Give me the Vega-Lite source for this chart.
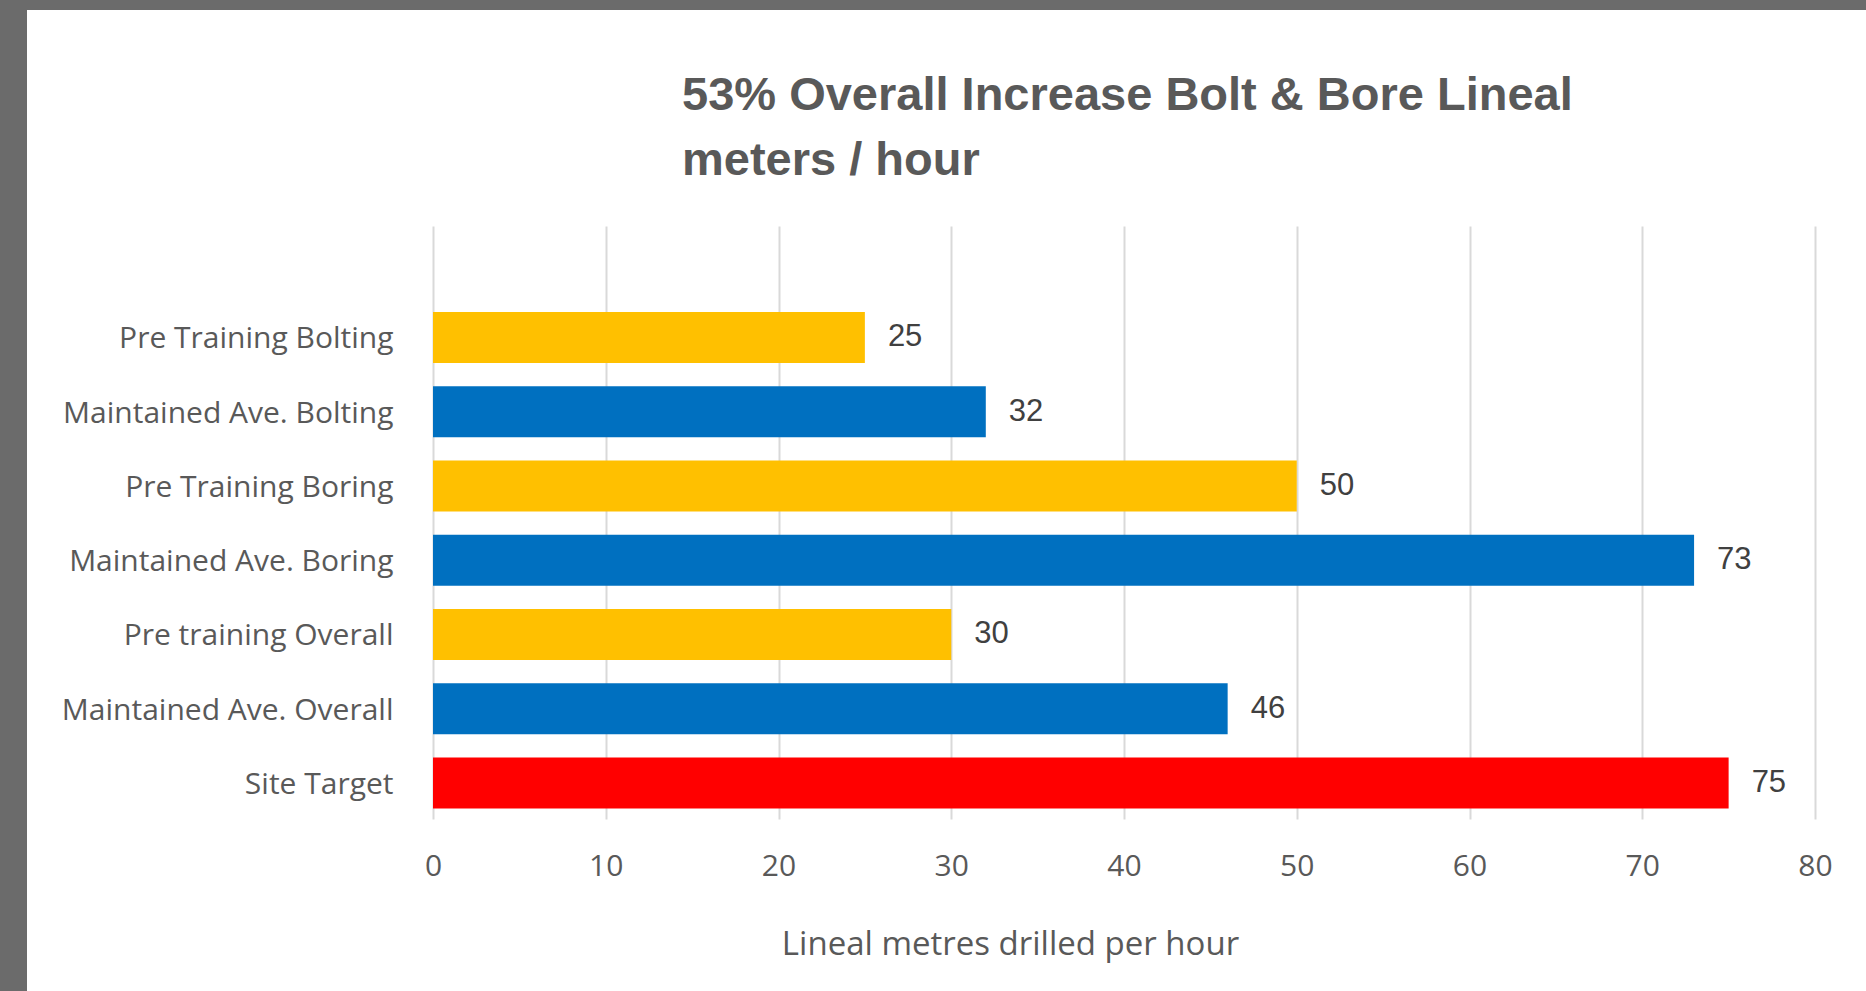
{
  "$schema": "https://vega.github.io/schema/vega-lite/v6.json",
  "width": 1839,
  "height": 1025,
  "autosize": {"type": "none"},
  "padding": {"left": 27, "top": 10, "right": 0, "bottom": -44},
  "background": "#6b6b6b",
  "config": {"view": {"fill": "white", "stroke": null}},
  "title": {
    "text": ["53% Overall Increase Bolt & Bore Lineal", "meters / hour"],
    "anchor": "start",
    "frame": "group",
    "dx": 655,
    "offset": -175,
    "font": "Liberation Sans",
    "fontSize": 47,
    "fontWeight": "bold",
    "lineHeight": 65,
    "color": "#595959"
  },
  "data": {
    "values": [
      {"category": "Pre Training Bolting", "group": "Pre training", "value": 25},
      {"category": "Maintained Ave.  Bolting", "group": "Maintained", "value": 32},
      {"category": "Pre Training Boring", "group": "Pre training", "value": 50},
      {"category": "Maintained Ave. Boring", "group": "Maintained", "value": 73},
      {"category": "Pre training Overall", "group": "Pre training", "value": 30},
      {"category": "Maintained Ave. Overall", "group": "Maintained", "value": 46},
      {"category": "Site Target", "group": "Target", "value": 75}
    ]
  },
  "encoding": {
    "y": {
      "field": "category",
      "type": "nominal",
      "sort": null,
      "scale": {"range": [216, 809], "paddingInner": 0.313, "paddingOuter": 0.65, "align": 0.89},
      "axis": {
        "title": null,
        "offset": -366,
        "domain": false,
        "ticks": false,
        "tickSize": 0,
        "labelPadding": 0,
        "labelOffset": 2,
        "grid": false,
        "labelFont": "Open Sans",
        "labelFontSize": 30,
        "labelColor": "#595959",
        "labelLimit": 0
      }
    },
    "x": {
      "field": "value",
      "type": "quantitative",
      "scale": {"domain": [0, 80], "range": [406, 1788], "nice": false, "zero": true},
      "axis": {
        "values": [0, 10, 20, 30, 40, 50, 60, 70, 80],
        "offset": -216,
        "grid": true,
        "gridColor": "#d9d9d9",
        "gridWidth": 2,
        "domain": false,
        "ticks": false,
        "tickSize": 0,
        "labelPadding": 32,
        "labelFlush": false,
        "labelFont": "Open Sans",
        "labelFontSize": 30,
        "labelColor": "#595959",
        "title": "Lineal metres drilled per hour",
        "titleFont": "Open Sans",
        "titleFontSize": 33,
        "titleFontWeight": "normal",
        "titleColor": "#595959",
        "titlePadding": 47,
        "titleX": 983,
        "titleAlign": "center"
      }
    }
  },
  "layer": [
    {
      "mark": {"type": "bar"},
      "encoding": {
        "color": {
          "field": "group",
          "type": "nominal",
          "scale": {"domain": ["Pre training", "Maintained", "Target"], "range": ["#FFC000", "#0070C0", "#FF0000"]},
          "legend": null
        }
      }
    },
    {
      "mark": {"type": "text", "align": "left", "baseline": "middle", "dx": 23, "font": "Liberation Sans", "fontSize": 31, "color": "#404040"},
      "encoding": {"text": {"field": "value", "type": "quantitative"}}
    }
  ]
}
